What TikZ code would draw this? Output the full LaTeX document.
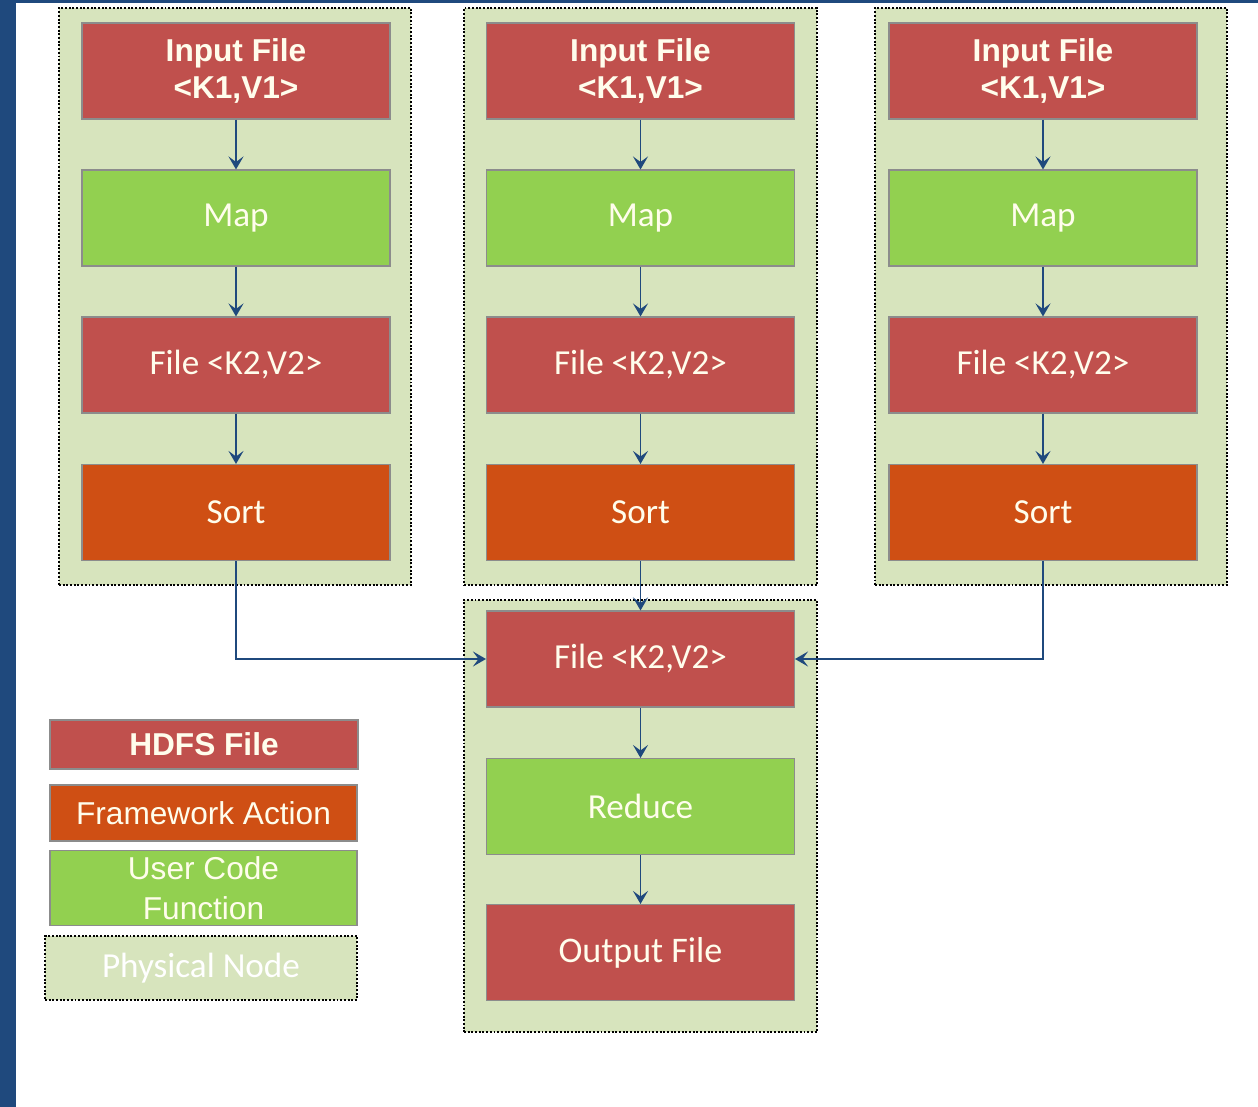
\documentclass[tikz,border=0pt]{standalone}
\usepackage{fontspec}
\setmainfont{Carlito}
\newfontfamily\arialfont{Liberation Sans}
\usetikzlibrary{positioning,arrows.meta}
\definecolor{hdfsred}{RGB}{192,80,77}
\definecolor{codegreen}{RGB}{146,208,80}
\definecolor{actorange}{RGB}{207,79,20}
\definecolor{nodegreen}{RGB}{215,228,189}
\definecolor{linkblue}{RGB}{31,73,125}
\definecolor{boxedge}{RGB}{140,140,140}
\definecolor{labeltext}{RGB}{255,253,236}
\tikzset{
  flowarrow/.style={-{Stealth[length=2.6mm, width=3mm, inset=1.1mm]}, line width=1.1pt, draw=linkblue},
  stagebox/.style={draw=boxedge, line width=0.6pt, minimum width=6.16cm, minimum height=1.92cm, align=center, text=labeltext, font=\fontsize{20}{24}\selectfont},
  hdfsnode/.style={stagebox, fill=hdfsred},
  codenode/.style={stagebox, fill=codegreen},
  actnode/.style={stagebox, fill=actorange},
  inputnode/.style={hdfsnode, font=\arialfont\bfseries\fontsize{18}{21.5}\selectfont},
  physnode/.style={draw=black, densely dotted, line width=1.1pt, fill=nodegreen, minimum width=7.04cm, minimum height=11.54cm},
  keynode/.style={stagebox, minimum width=6.16cm, font=\arialfont\fontsize{18}{22.5}\selectfont}
}

\begin{document}
\begin{tikzpicture}
      \useasboundingbox (0,0) rectangle (25.16,-22.14);
      \fill[linkblue] (0,0) rectangle (0.32,-22.14);
      \fill[linkblue] (0,0) rectangle (25.16,-0.06);
      % physical nodes
      \node[physnode] (pa) at (4.70,-5.93) {};
      \node[physnode, minimum width=7.06cm] (pb) at (12.81,-5.93) {};
      \node[physnode] (pc) at (21.02,-5.93) {};
      \node[physnode, minimum width=7.06cm, minimum height=8.64cm] (pr) at (12.81,-16.32) {};
      % first mapper
      \node[inputnode] (ina) at (4.72,-1.42) {Input File\\<K1,V1>};
      \node[codenode] (mapa) at (4.72,-4.36) {Map};
      \node[hdfsnode] (filea) at (4.72,-7.30) {File <K2,V2>};
      \node[actnode] (sorta) at (4.72,-10.25) {Sort};
      % second mapper
      \node[inputnode] (inb) at (12.81,-1.42) {Input File\\<K1,V1>};
      \node[codenode] (mapb) at (12.81,-4.36) {Map};
      \node[hdfsnode] (fileb) at (12.81,-7.30) {File <K2,V2>};
      \node[actnode] (sortb) at (12.81,-10.25) {Sort};
      % third mapper
      \node[inputnode] (inc) at (20.86,-1.42) {Input File\\<K1,V1>};
      \node[codenode] (mapc) at (20.86,-4.36) {Map};
      \node[hdfsnode] (filec) at (20.86,-7.30) {File <K2,V2>};
      \node[actnode] (sortc) at (20.86,-10.25) {Sort};
      % reducer
      \node[hdfsnode] (filer) at (12.81,-13.18) {File <K2,V2>};
      \node[codenode] (reduce) at (12.81,-16.13) {Reduce};
      \node[hdfsnode, font=\fontsize{20.5}{24}\selectfont] (output) at (12.81,-19.05) {Output File};
      % legend
      \node[keynode, fill=hdfsred, minimum height=0.98cm, font=\arialfont\bfseries\fontsize{18}{22}\selectfont] (keyhdfs) at (4.08,-14.89) {HDFS File};
      \node[keynode, fill=actorange, minimum width=6.14cm, minimum height=1.12cm] (keyact) at (4.07,-16.26) {Framework Action};
      \node[keynode, fill=codegreen, minimum width=6.14cm, minimum height=1.32cm] (keycode) at (4.07,-17.76) {User Code\\Function};
      \node[physnode, minimum width=6.24cm, minimum height=1.28cm, text=white, font=\fontsize{20}{24}\selectfont] (keyphys) at (4.02,-19.36) {Physical Node};
      % flow
      \draw[flowarrow] (ina) -- (mapa);
      \draw[flowarrow] (mapa) -- (filea);
      \draw[flowarrow] (filea) -- (sorta);
      \draw[flowarrow] (inb) -- (mapb);
      \draw[flowarrow] (mapb) -- (fileb);
      \draw[flowarrow] (fileb) -- (sortb);
      \draw[flowarrow] (inc) -- (mapc);
      \draw[flowarrow] (mapc) -- (filec);
      \draw[flowarrow] (filec) -- (sortc);
      \draw[flowarrow] (sorta) |- (filer);
      \draw[flowarrow] (sortb) -- (filer);
      \draw[flowarrow] (sortc) |- (filer);
      \draw[flowarrow] (filer) -- (reduce);
      \draw[flowarrow] (reduce) -- (output);
\end{tikzpicture}
\end{document}
